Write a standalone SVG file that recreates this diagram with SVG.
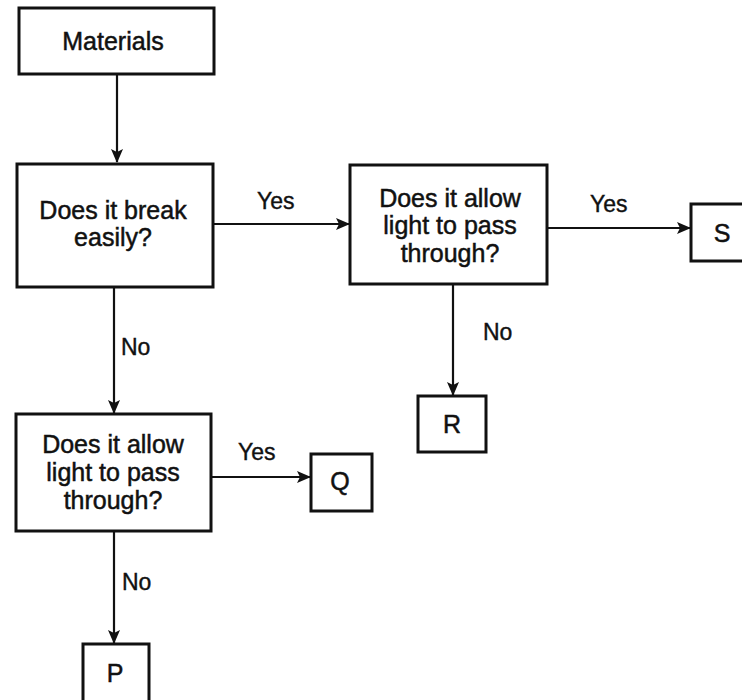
<svg xmlns="http://www.w3.org/2000/svg" width="742" height="700" viewBox="0 0 742 700">
<style>
.box{fill:#fff;stroke:#111;stroke-width:3}
.t{font-family:"Liberation Sans",Arial,sans-serif;font-size:25px;fill:#111;stroke:#111;stroke-width:0.5;text-anchor:middle}
.lbl{font-family:"Liberation Sans",Arial,sans-serif;font-size:23px;fill:#111;stroke:#111;stroke-width:0.4}
.c{fill:none;stroke:#111;stroke-width:2.2}
</style>
<defs>
<marker id="ah" markerUnits="userSpaceOnUse" markerWidth="14" markerHeight="12" refX="13" refY="6" orient="auto">
<path d="M0,0 L14,6 L0,12 L3,6 z" fill="#111"/>
</marker>
</defs>
<rect width="742" height="700" fill="#fff"/>
<g id="connectors">
<line class="c" x1="117" y1="75" x2="117" y2="162" marker-end="url(#ah)"/>
<line class="c" x1="213" y1="224" x2="349" y2="224" marker-end="url(#ah)"/>
<line class="c" x1="547" y1="228" x2="690" y2="228" marker-end="url(#ah)"/>
<line class="c" x1="453" y1="284" x2="453" y2="395" marker-end="url(#ah)"/>
<line class="c" x1="114" y1="287" x2="114" y2="413" marker-end="url(#ah)"/>
<line class="c" x1="211" y1="477" x2="310" y2="477" marker-end="url(#ah)"/>
<line class="c" x1="114" y1="531" x2="114" y2="643" marker-end="url(#ah)"/>
<text class="lbl" x="257" y="209">Yes</text>
<text class="lbl" x="590" y="212">Yes</text>
<text class="lbl" x="483" y="340">No</text>
<text class="lbl" x="121" y="355">No</text>
<text class="lbl" x="238" y="460">Yes</text>
<text class="lbl" x="122" y="590">No</text>
</g>
<g id="materials">
<rect class="box" x="19" y="8" width="195" height="66"/>
<text class="t" x="113" y="50">Materials</text>
</g>
<g id="q1">
<rect class="box" x="17" y="164" width="196" height="123"/>
<text class="t" x="113" y="219">Does it break</text>
<text class="t" x="113" y="246">easily?</text>
</g>
<g id="q2">
<rect class="box" x="350" y="165" width="197" height="119"/>
<text class="t" x="450" y="207">Does it allow</text>
<text class="t" x="450" y="234">light to pass</text>
<text class="t" x="450" y="262">through?</text>
</g>
<g id="q3">
<rect class="box" x="16" y="414" width="195" height="117"/>
<text class="t" x="113" y="453">Does it allow</text>
<text class="t" x="113" y="481">light to pass</text>
<text class="t" x="113" y="509">through?</text>
</g>
<g id="S">
<rect class="box" x="691" y="204" width="60" height="57"/>
<text class="t" x="722" y="242">S</text>
</g>
<g id="R">
<rect class="box" x="418" y="396" width="68" height="56"/>
<text class="t" x="452" y="433">R</text>
</g>
<g id="Q">
<rect class="box" x="311" y="454" width="61" height="57"/>
<text class="t" x="340" y="490">Q</text>
</g>
<g id="P">
<rect class="box" x="83" y="644" width="66" height="60"/>
<text class="t" x="115" y="682">P</text>
</g>
</svg>
